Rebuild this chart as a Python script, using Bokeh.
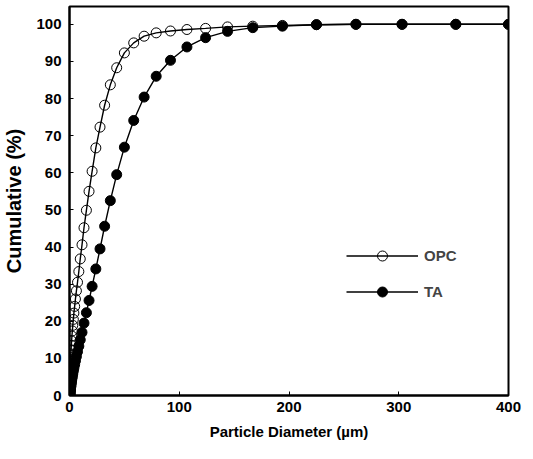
from bokeh.plotting import figure
from bokeh.models import Range1d, FixedTicker, ColumnDataSource
from bokeh.embed import file_html
from bokeh.resources import INLINE

# Particle size grid (µm)
diameter_um = [0.15, 0.18, 0.21, 0.24, 0.28, 0.32, 0.37, 0.43, 0.50, 0.58,
               0.67, 0.78, 0.91, 1.05, 1.22, 1.42, 1.65, 1.9, 2.2, 2.6,
               3.0, 3.5, 4.0, 4.7, 5.4, 6.3, 7.3, 8.5, 9.8, 11.4,
               13.2, 15.4, 17.8, 20.6, 24.0, 27.8, 32.0, 37.2, 43.0, 50.0,
               58.5, 68.0, 79.0, 92.0, 107.0, 124.0, 144.0, 167.0, 194.0, 225.0,
               261.0, 303.0, 352.0, 400.0]

# Cumulative (%) for OPC (open circles)
opc_cum = [0.3, 0.6, 1.1, 1.6, 2.2, 2.9, 3.6, 4.4, 5.3, 6.2,
           7.2, 8.2, 9.2, 10.2, 11.2, 12.3, 13.5, 14.7, 16.0, 17.4,
           18.9, 20.5, 22.2, 24.0, 26.0, 28.2, 30.5, 33.4, 36.8, 40.6,
           45.2, 49.9, 55.0, 60.4, 66.7, 72.3, 78.2, 83.7, 88.3, 92.3,
           95.0, 96.8, 97.7, 98.2, 98.6, 98.9, 99.3, 99.5, 99.7, 99.9,
           100.0, 100.0, 100.0, 100.0]

# Cumulative (%) for TA (filled circles)
ta_cum = [0.0, 0.0, 0.05, 0.1, 0.2, 0.3, 0.4, 0.6, 0.8, 1.0,
          1.2, 1.5, 1.8, 2.1, 2.5, 2.9, 3.4, 3.9, 4.5, 5.1,
          5.8, 6.6, 7.4, 8.3, 9.3, 10.5, 11.8, 13.3, 15.0, 17.0,
          19.5, 22.3, 25.6, 29.4, 34.1, 39.5, 45.6, 52.5, 59.5, 66.9,
          74.1, 80.4, 86.0, 90.3, 93.9, 96.4, 98.1, 99.1, 99.5, 99.9,
          100.0, 100.0, 100.0, 100.0]

x_ticks = [0, 100, 200, 300, 400]
y_ticks = [0, 10, 20, 30, 40, 50, 60, 70, 80, 90, 100]

FONT = "Liberation Sans"

p = figure(width=533, height=459, output_backend="svg", toolbar_location=None,
           x_range=Range1d(0, 400), y_range=Range1d(0, 104.8),
           min_border_left=68, min_border_right=25, min_border_top=6,
           min_border_bottom=64)

p.xgrid.visible = False
p.ygrid.visible = False
p.outline_line_color = "black"
p.outline_line_width = 2
p.background_fill_color = "white"
p.border_fill_color = "white"

src_opc = ColumnDataSource(dict(x=diameter_um, y=opc_cum))
src_ta = ColumnDataSource(dict(x=diameter_um, y=ta_cum))

p.line("x", "y", source=src_opc, line_color="black", line_width=1.4, legend_label="OPC")
p.scatter("x", "y", source=src_opc, marker="circle", size=10, fill_alpha=0,
          line_color="black", line_width=1, legend_label="OPC")
p.line("x", "y", source=src_ta, line_color="black", line_width=1.4, legend_label="TA")
p.scatter("x", "y", source=src_ta, marker="circle", size=10, fill_color="black",
          line_color="black", line_width=1, legend_label="TA")

for ax in (p.xaxis[0], p.yaxis[0]):
    ax.axis_line_width = 2
    ax.major_tick_in = 4
    ax.major_tick_out = 0
    ax.minor_tick_line_color = None
    ax.major_label_text_font = FONT
    ax.major_label_text_font_style = "bold"
    ax.major_label_text_font_size = "15px"
    ax.major_label_text_color = "black"
    ax.axis_label_text_font = FONT
    ax.axis_label_text_font_style = "bold"
    ax.axis_label_text_color = "black"

p.xaxis.ticker = FixedTicker(ticks=x_ticks)
p.yaxis.ticker = FixedTicker(ticks=y_ticks)
p.xaxis.axis_label = "Particle Diameter (µm)"
p.yaxis.axis_label = "Cumulative (%)"
p.xaxis.axis_label_text_font_size = "15px"
p.yaxis.axis_label_text_font_size = "20px"
p.xaxis.major_label_standoff = 6
p.yaxis.major_label_standoff = 8
p.xaxis.axis_label_standoff = 8
p.yaxis.axis_label_standoff = 8

lg = p.legend[0]
lg.location = (272, 86)
lg.glyph_width = 72
lg.glyph_height = 25
lg.label_height = 25
lg.spacing = 11
lg.padding = 5
lg.label_standoff = 6
lg.border_line_alpha = 0
lg.background_fill_alpha = 0
lg.label_text_font = FONT
lg.label_text_font_style = "bold"
lg.label_text_font_size = "15px"

open("out.html", "w").write(file_html(p, INLINE))
